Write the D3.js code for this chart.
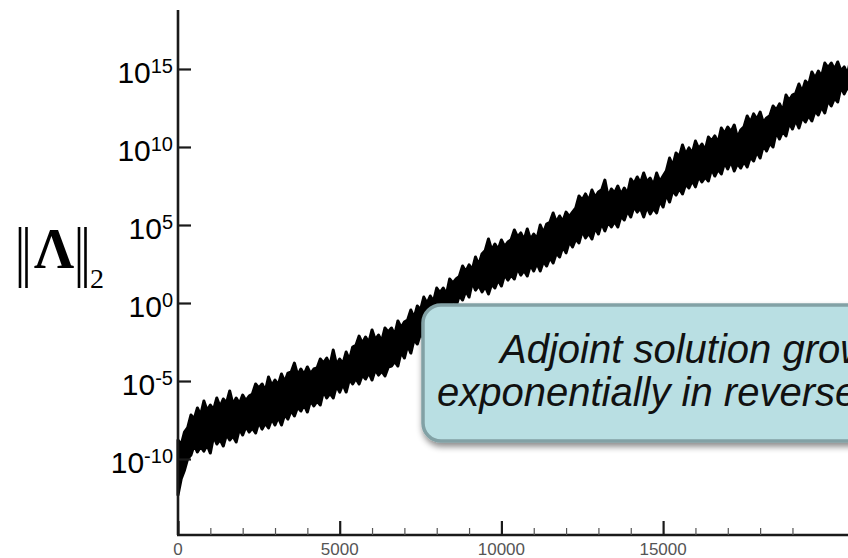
<!DOCTYPE html>
<html><head><meta charset="utf-8">
<script src="https://cdn.jsdelivr.net/npm/d3@7"></script>
<style>html,body{margin:0;padding:0;background:#fff;overflow:hidden}</style>
</head><body>
<svg id="chart" width="848" height="558"></svg>
<script>
// ---- data ----
// spike tips of the band (every 200 iterations)
const peakIterations = [0,200,400,600,800,1000,1200,1400,1600,1800,2000,2200,2400,2600,2800,3000,3200,3400,3600,3800,4000,4200,4400,4600,4800,5000,5200,5400,5600,5800,6000,6200,6400,6600,6800,7000,7200,7400,7600,7800,8000,8200,8400,8600,8800,9000,9200,9400,9600,9800,10000,10200,10400,10600,10800,11000,11200,11400,11600,11800,12000,12200,12400,12600,12800,13000,13200,13400,13600,13800,14000,14200,14400,14600,14800,15000,15200,15400,15600,15800,16000,16200,16400,16600,16800,17000,17200,17400,17600,17800,18000,18200,18400,18600,18800,19000,19200,19400,19600,19800,20000,20200,20400,20600,20800];
// log10 of ||Lambda||_2, top edge of the band
const upperExp = [-8.78,-8.27,-7.18,-6.73,-6.28,-6.54,-6.09,-6.15,-5.64,-6.09,-5.90,-5.96,-5.19,-5.19,-4.74,-4.94,-4.55,-4.49,-3.85,-4.23,-4.10,-4.23,-3.59,-3.53,-3.01,-3.59,-3.14,-2.82,-2.12,-2.18,-1.73,-2.05,-1.60,-1.60,-1.15,-1.22,-0.45,-0.19,0.38,0.45,0.96,0.96,1.54,1.54,2.37,2.44,2.95,3.14,4.10,3.78,4.04,3.91,4.68,4.49,4.74,4.42,5.00,5.06,5.77,5.58,5.83,5.83,6.86,6.99,7.24,7.12,7.88,7.31,7.50,7.37,7.95,8.08,8.33,8.01,8.33,8.14,9.29,9.62,10.13,9.94,10.38,10.19,10.64,10.71,11.22,11.28,11.41,11.09,11.99,12.12,12.24,11.86,12.63,12.76,13.33,13.33,14.04,14.23,14.81,14.87,15.38,15.38,15.45,15.13,15.58];
// log10 of ||Lambda||_2, bottom edge of the band
const lowerExp = [-12.31,-10.71,-9.74,-9.55,-9.49,-9.62,-9.04,-9.17,-8.78,-8.91,-8.46,-8.27,-8.33,-8.08,-8.01,-7.82,-7.82,-7.44,-7.24,-6.92,-6.99,-6.60,-6.54,-6.09,-6.09,-5.71,-5.71,-5.19,-5.19,-4.87,-4.94,-4.62,-4.68,-4.04,-4.04,-3.53,-3.21,-2.63,-2.31,-1.73,-1.28,-0.96,-0.58,-0.19,0.19,0.38,0.83,0.71,0.58,0.96,1.09,1.47,1.54,1.79,1.73,2.05,2.05,2.37,2.56,2.95,3.21,3.59,3.85,4.17,4.10,4.42,4.62,4.87,4.87,5.32,5.51,5.83,5.51,5.71,5.77,6.15,6.47,6.92,6.99,7.37,7.44,7.76,7.82,8.14,8.27,8.59,8.46,8.65,8.72,9.10,9.29,9.74,10.00,10.51,10.71,11.15,11.22,11.60,11.67,12.05,12.18,12.63,12.88,13.40,13.53];
// notches between spike tips (every 200 iterations, offset by 100)
const valleyIterations = [100,300,500,700,900,1100,1300,1500,1700,1900,2100,2300,2500,2700,2900,3100,3300,3500,3700,3900,4100,4300,4500,4700,4900,5100,5300,5500,5700,5900,6100,6300,6500,6700,6900,7100,7300,7500,7700,7900,8100,8300,8500,8700,8900,9100,9300,9500,9700,9900,10100,10300,10500,10700,10900,11100,11300,11500,11700,11900,12100,12300,12500,12700,12900,13100,13300,13500,13700,13900,14100,14300,14500,14700,14900,15100,15300,15500,15700,15900,16100,16300,16500,16700,16900,17100,17300,17500,17700,17900,18100,18300,18500,18700,18900,19100,19300,19500,19700,19900,20100,20300,20500,20700];
const upperValleyExp = [-9.08,-7.98,-7.43,-7.18,-6.89,-6.84,-6.65,-6.40,-6.49,-6.44,-6.26,-5.83,-5.44,-5.64,-5.29,-5.24,-5.05,-4.42,-4.63,-4.58,-4.53,-4.16,-3.84,-3.98,-3.94,-3.89,-3.64,-2.72,-2.58,-2.53,-2.35,-2.45,-1.85,-2.05,-1.57,-1.09,-0.95,-0.44,-0.02,0.10,0.66,0.56,1.29,1.71,2.02,2.14,2.45,3.37,3.38,3.43,3.61,4.05,4.24,4.04,4.07,4.12,4.50,5.17,5.18,5.23,5.53,6.10,6.61,6.54,6.77,7.25,6.81,7.06,6.97,7.02,7.65,7.68,7.76,7.56,7.79,8.47,8.79,9.37,9.54,9.59,9.89,9.79,10.39,10.26,10.87,10.98,10.59,11.29,11.59,11.77,11.56,12.00,12.38,12.31,12.98,13.44,13.54,13.98,14.41,14.52,15.08,14.98,14.88,14.68];
const lowerValleyExp = [-11.26,-9.98,-9.10,-9.19,-9.09,-8.54,-8.74,-8.43,-8.53,-8.06,-7.92,-8.02,-7.63,-7.71,-7.42,-7.32,-7.14,-6.89,-6.67,-6.52,-6.25,-6.29,-5.64,-5.79,-5.31,-5.21,-4.89,-4.84,-4.62,-4.47,-4.27,-4.37,-4.11,-3.74,-3.13,-2.71,-2.33,-1.96,-1.48,-0.88,-0.61,-0.33,0.26,0.49,0.78,1.33,1.13,1.06,1.21,1.49,1.82,1.79,2.24,2.09,2.45,2.55,2.67,2.91,3.20,3.61,3.94,4.10,4.62,4.47,4.82,5.12,5.17,5.22,5.57,5.91,6.18,6.08,6.16,6.07,6.55,6.97,7.22,7.34,7.62,7.84,8.11,8.07,8.59,8.57,8.99,9.09,8.95,9.07,9.35,9.69,10.09,10.25,10.96,11.01,11.55,11.72,11.90,12.02,12.30,12.58,12.98,13.13,13.85,13.83];
const yTickExps = [-10,-5,0,5,10,15];
const xMajorTicks = [0,5000,10000,15000];
const xMinorTicks = [1000,2000,3000,4000,6000,7000,8000,9000,11000,12000,13000,14000,16000,17000,18000,19000];
const calloutLines = ["Adjoint solution grows","exponentially in reverse time"];

// ---- layout ----
const svg = d3.select("#chart");
const padL = 178, padT = 10, padB = 535;
const x = d3.scaleLinear().domain([0, 22087]).range([padL, padL + 22087 * 0.03234]);
const y = d3.scaleLog().domain([Math.pow(10,-14.87), Math.pow(10,18.78)]).range([padB, padT]);
const font = "'Liberation Sans', Arial, sans-serif";

// band: merge tips and notches in iteration order
const pts = [];
peakIterations.forEach((it,i)=>pts.push({it, hi:upperExp[i], lo:lowerExp[i]}));
valleyIterations.forEach((it,i)=>pts.push({it, hi:upperValleyExp[i], lo:lowerValleyExp[i]}));
pts.sort((a,b)=>a.it-b.it);
const area = d3.area().x(d=>x(d.it)).y0(d=>y(Math.pow(10,d.lo))).y1(d=>y(Math.pow(10,d.hi))).curve(d3.curveLinear);
svg.append("path").datum(pts).attr("d", area)
  .attr("fill","#000").attr("stroke","#000").attr("stroke-width",3).attr("stroke-linejoin","round");

// axes
const axisColor = "#1a1a1a";
svg.append("line").attr("x1",padL).attr("x2",padL).attr("y1",padT).attr("y2",padB)
  .attr("stroke",axisColor).attr("stroke-width",2.6);
svg.append("line").attr("x1",padL-1).attr("x2",900).attr("y1",padB).attr("y2",padB)
  .attr("stroke",axisColor).attr("stroke-width",2.6);

const yAxis = d3.axisLeft(y).tickValues(yTickExps.map(e=>Math.pow(10,e))).tickSizeInner(-13).tickSizeOuter(0).tickFormat("");
const gy = svg.append("g").attr("transform",`translate(${padL},0)`).call(yAxis);
gy.select(".domain").remove();
gy.selectAll(".tick line").attr("stroke",axisColor).attr("stroke-width",2.2);

const xMajor = d3.axisBottom(x).tickValues(xMajorTicks).tickSizeInner(-14).tickSizeOuter(0).tickFormat("");
const gx = svg.append("g").attr("transform",`translate(0,${padB})`).call(xMajor);
gx.select(".domain").remove();
gx.selectAll(".tick line").attr("stroke",axisColor).attr("stroke-width",2.2);
const xMinor = d3.axisBottom(x).tickValues(xMinorTicks).tickSizeInner(-7).tickSizeOuter(0).tickFormat("");
const gxm = svg.append("g").attr("transform",`translate(0,${padB})`).call(xMinor);
gxm.select(".domain").remove();
gxm.selectAll(".tick line").attr("stroke","#555").attr("stroke-width",1.2);

// x tick labels
svg.selectAll("text.xl").data(xMajorTicks).enter().append("text").attr("class","xl")
  .attr("x",d=>x(d)).attr("y",555).attr("text-anchor","middle")
  .attr("font-family",font).attr("font-size",17).attr("fill","#555").text(d=>d);

// y tick labels 10^e
const yl = svg.selectAll("text.yl").data(yTickExps).enter().append("text").attr("class","yl")
  .attr("x",173).attr("y",d=>y(Math.pow(10,d))+14).attr("text-anchor","end")
  .attr("font-family",font).attr("fill","#000");
yl.append("tspan").attr("font-size",30).text("10");
yl.append("tspan").attr("font-size",20).attr("dy",-10).text(d=>d<0?"-"+Math.abs(d):String(d));

// y axis title ||Λ||_2
const tg = svg.append("g");
[20,26.5,79,85.5].forEach(bx=>{
  tg.append("line").attr("x1",bx).attr("x2",bx).attr("y1",227).attr("y2",288)
    .attr("stroke","#000").attr("stroke-width",2.6);
});
tg.append("text").attr("x",54).attr("y",268).attr("text-anchor","middle")
  .attr("font-family","'Liberation Serif','Times New Roman',serif").attr("font-weight","bold")
  .attr("font-size",56).text("Λ");
tg.append("text").attr("x",90).attr("y",288)
  .attr("font-family","'Liberation Serif','Times New Roman',serif").attr("font-size",28).text("2");

// callout
const defs = svg.append("defs");
const f = defs.append("filter").attr("id","sh").attr("x","-10%").attr("y","-10%").attr("width","130%").attr("height","140%");
f.append("feDropShadow").attr("dx",1).attr("dy",4).attr("stdDeviation",3).attr("flood-color","#000").attr("flood-opacity",0.45);
svg.append("rect").attr("x",423).attr("y",305).attr("width",540).attr("height",136).attr("rx",18)
  .attr("fill","#b9dfe3").attr("stroke","#82a1a5").attr("stroke-width",3.5).attr("filter","url(#sh)");
svg.selectAll("text.cl").data(calloutLines).enter().append("text").attr("class","cl")
  .attr("x",(d,i)=>i===0?500:437).attr("y",(d,i)=>i===0?363:406)
  .attr("font-family",font).attr("font-style","italic").attr("font-size",40).attr("fill","#111")
  .text(d=>d);
</script>
</body></html>
